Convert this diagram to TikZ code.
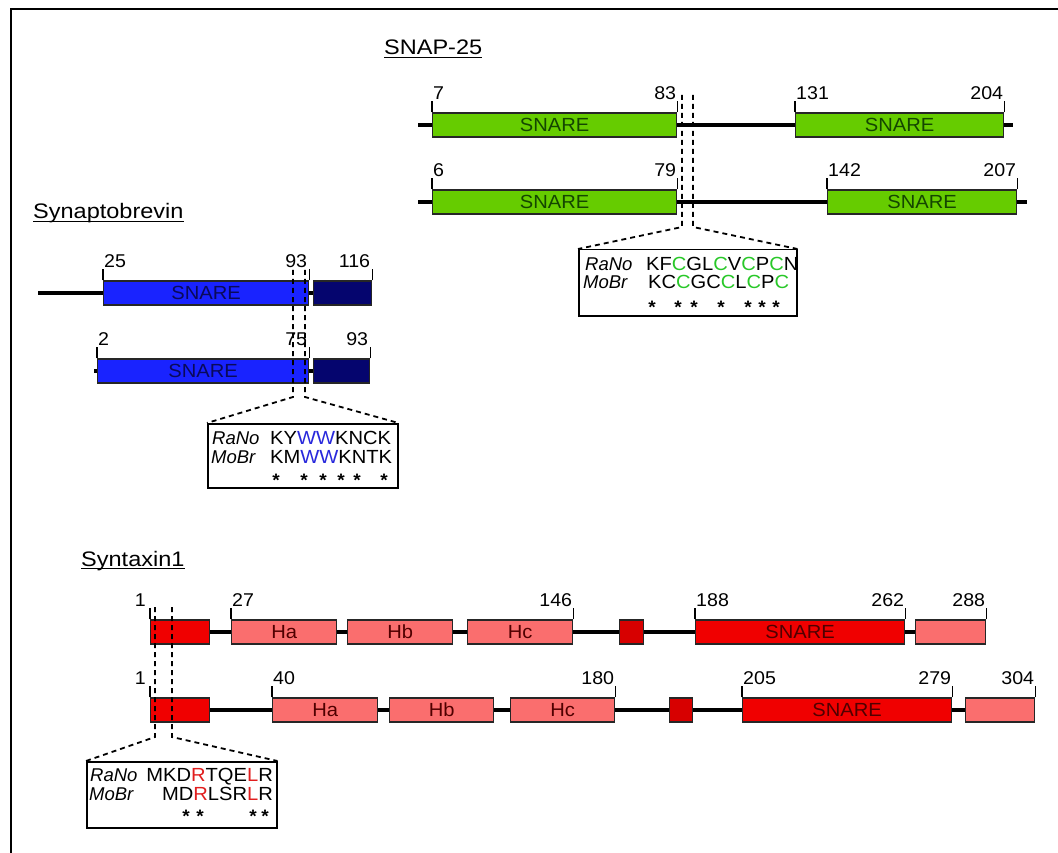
\documentclass[tikz,border=0pt]{standalone}
\usepackage{fontspec}
\setmainfont{Liberation Sans}[FakeStretch=1.06]
\newfontfamily\plainf{Liberation Sans}
\newfontfamily\titf{Liberation Sans}[FakeStretch=1.12]
\definecolor{snapg}{RGB}{102,204,0}
\definecolor{snapt}{RGB}{20,70,0}
\definecolor{sbblue}{RGB}{25,35,255}
\definecolor{sbtext}{RGB}{10,10,90}
\definecolor{sbnavy}{RGB}{5,5,110}
\definecolor{sxred}{RGB}{240,0,0}
\definecolor{sxdark}{RGB}{215,0,0}
\definecolor{sxpink}{RGB}{250,110,110}
\definecolor{sxtext}{RGB}{80,0,0}
\definecolor{lg}{RGB}{40,200,40}
\definecolor{lb}{RGB}{40,40,220}
\definecolor{lr}{RGB}{225,30,30}
\newcommand\cgr[1]{\textcolor{lg}{#1}}
\newcommand\cbl[1]{\textcolor{lb}{#1}}
\newcommand\crd[1]{\textcolor{lr}{#1}}
\newcommand\tkl[5]{%
  \draw[tk] (#1) -- ([yshift=11pt]#1);
  \node[num, anchor=#2] (#4) at ([xshift=#3, yshift=13pt]#1) {#5};}
\begin{document}
\begin{tikzpicture}[x=1pt,y=-1pt,
  bb/.style={line width=3.2pt},
  dom/.style={draw=black!85, line width=1.3pt, inner sep=0pt, minimum height=24pt, anchor=west,
     font=\fontsize{19}{19}\selectfont},
  gdom/.style={dom, fill=snapg, text=snapt},
  bdom/.style={dom, fill=sbblue, text=sbtext},
  ndom/.style={dom, fill=sbnavy},
  rdom/.style={dom, fill=sxred, text=sxtext},
  ddom/.style={dom, fill=sxdark},
  pdom/.style={dom, fill=sxpink, text=sxtext},
  tk/.style={line width=1.3pt},
  num/.style={inner sep=0pt, font=\fontsize{18.5}{19}\selectfont},
  vd/.style={line width=1.8pt, dash pattern=on 5pt off 4pt},
  sbox/.style={draw, line width=1.5pt, inner sep=0pt, anchor=north west},
  nm/.style={inner sep=0pt, anchor=base west, font=\plainf\itshape\fontsize{18.5}{19}\selectfont},
  sqt/.style={inner sep=0pt, font=\fontsize{19}{19}\selectfont},
  strx/.style={inner sep=0pt, anchor=base, font=\bfseries\fontsize{18}{18}\selectfont},
  ttl/.style={inner sep=0pt, anchor=base west, font=\titf\fontsize{21}{21}\selectfont},
  ul/.style={line width=1.3pt}
]
\useasboundingbox (0,0) rectangle (1058,853);
\fill[white] (0,0) rectangle (1058,853);
\coordinate (f1) at (10.5,853); \coordinate (f2) at (10.5,9.5); \coordinate (f3) at (1058,9.5);
\draw[line width=2pt] (f1) -- (f2) -- (f3);

% titles
\node[ttl] (t1) at (384,55) {SNAP-25};
\draw[ul] ([yshift=-2.5pt]t1.base west) -- ([yshift=-2.5pt]t1.base east);
\node[ttl] (t2) at (33,219) {Synaptobrevin};
\draw[ul] ([yshift=-2.5pt]t2.base west) -- ([yshift=-2.5pt]t2.base east);
\node[ttl] (t3) at (81,566) {Syntaxin1};
\draw[ul] ([yshift=-2.5pt]t3.base west) -- ([yshift=-2.5pt]t3.base east);

% ---------- SNAP-25 ----------
\node[gdom, minimum width=244pt] (sa1) at (432,125) {SNARE};
\node[gdom, minimum width=208pt] (sa2) at (795,125) {SNARE};
\node[gdom, minimum width=244pt] (sb1) at (432,202) {SNARE};
\node[gdom, minimum width=189pt] (sb2) at (827,202) {SNARE};
\coordinate (sa0) at (418,125); \coordinate (sae) at (1013,125);
\coordinate (sb0) at (418,202); \coordinate (sbe) at (1027,202);
\draw[bb] (sa0) -- (sa1.west) (sa1.east) -- (sa2.west) (sa2.east) -- (sae);
\draw[bb] (sb0) -- (sb1.west) (sb1.east) -- (sb2.west) (sb2.east) -- (sbe);
\tkl{sa1.north west}{base west}{1pt}{lsa1}{7}
\tkl{sa1.north east}{base east}{-1pt}{lsa2}{83}
\tkl{sa2.north west}{base west}{1pt}{lsa3}{131}
\tkl{sa2.north east}{base east}{-1pt}{lsa4}{204}
\tkl{sb1.north west}{base west}{1pt}{lsb1}{6}
\tkl{sb1.north east}{base east}{-1pt}{lsb2}{79}
\tkl{sb2.north west}{base west}{1pt}{lsb3}{142}
\tkl{sb2.north east}{base east}{-1pt}{lsb4}{207}

\node[sbox, minimum width=218pt, minimum height=66pt] (sq) at (578,249) {};
\coordinate (sd1t) at (682,95); \coordinate (sd1b) at (682,227);
\coordinate (sd2t) at (693,95); \coordinate (sd2b) at (693,227);
\draw[vd] (sd1t) -- (sd1b) -- (sq.north west);
\draw[vd] (sd2t) -- (sd2b) -- (sq.north east);
\node[nm] (srn) at (585,270) {RaNo};
\node[sqt, anchor=base west] (srs) at (646,270) {KF\cgr{C}GL\cgr{C}V\cgr{C}P\cgr{C}N};
\node[nm] (smn) at (583,289) {MoBr};
\node[sqt, anchor=base west] (sms) at (648,289) {KC\cgr{C}GC\cgr{C}L\cgr{C}P\cgr{C}};
\foreach \x [count=\i] in {652,678,694,721,748,762,776}
  \node[strx] (ss\i) at (\x,313) {*};

% ---------- Synaptobrevin ----------
\node[bdom, minimum width=205pt] (va1) at (103,293) {SNARE};
\node[ndom, minimum width=58pt] (va2) at (313,293) {};
\node[bdom, minimum width=211pt] (vb1) at (97,371) {SNARE};
\node[ndom, minimum width=56pt] (vb2) at (313,371) {};
\coordinate (va0) at (38,293); \coordinate (vb0) at (94,371);
\draw[bb] (va0) -- (va1.west) (va1.east) -- (va2.west);
\draw[bb] (vb0) -- (vb1.west) (vb1.east) -- (vb2.west);
\tkl{va1.north west}{base west}{1pt}{lva1}{25}
\tkl{va1.north east}{base east}{-2pt}{lva2}{93}
\tkl{va2.north east}{base east}{-2pt}{lva3}{116}
\tkl{vb1.north west}{base west}{1pt}{lvb1}{2}
\tkl{vb1.north east}{base east}{-2pt}{lvb2}{75}
\tkl{vb2.north east}{base east}{-2pt}{lvb3}{93}

\node[sbox, minimum width=190pt, minimum height=64pt] (vq) at (207,423) {};
\coordinate (vd1t) at (293,270); \coordinate (vd1b) at (293,397);
\coordinate (vd2t) at (305,270); \coordinate (vd2b) at (305,397);
\draw[vd] (vd1t) -- (vd1b) -- (vq.north west);
\draw[vd] (vd2t) -- (vd2b) -- (vq.north east);
\node[nm] (vrn) at (212,444) {RaNo};
\node[sqt, anchor=base west] (vrs) at (270,444) {KY\cbl{WW}KNCK};
\node[nm] (vmn) at (211,463) {MoBr};
\node[sqt, anchor=base west] (vms) at (270,463) {KM\cbl{WW}KNTK};
\foreach \x [count=\i] in {276,304,323,341,357,384}
  \node[strx] (vs\i) at (\x,486) {*};

% ---------- Syntaxin1 ----------
\node[rdom, minimum width=59pt] (xa1) at (150,632) {};
\node[pdom, minimum width=105pt] (xa2) at (231,632) {Ha};
\node[pdom, minimum width=105pt] (xa3) at (347,632) {Hb};
\node[pdom, minimum width=105pt] (xa4) at (467,632) {Hc};
\node[ddom, minimum width=24pt] (xa5) at (619,632) {};
\node[rdom, minimum width=209pt] (xa6) at (695,632) {SNARE};
\node[pdom, minimum width=70pt] (xa7) at (915,632) {};
\draw[bb] (xa1.east) -- (xa2.west) (xa2.east) -- (xa3.west) (xa3.east) -- (xa4.west)
  (xa4.east) -- (xa5.west) (xa5.east) -- (xa6.west) (xa6.east) -- (xa7.west);
\node[rdom, minimum width=59pt] (xb1) at (150,710) {};
\node[pdom, minimum width=105pt] (xb2) at (272,710) {Ha};
\node[pdom, minimum width=104pt] (xb3) at (389,710) {Hb};
\node[pdom, minimum width=104pt] (xb4) at (510,710) {Hc};
\node[ddom, minimum width=23pt] (xb5) at (669,710) {};
\node[rdom, minimum width=209pt] (xb6) at (742,710) {SNARE};
\node[pdom, minimum width=69pt] (xb7) at (965,710) {};
\draw[bb] (xb1.east) -- (xb2.west) (xb2.east) -- (xb3.west) (xb3.east) -- (xb4.west)
  (xb4.east) -- (xb5.west) (xb5.east) -- (xb6.west) (xb6.east) -- (xb7.west);
\tkl{xa1.north west}{base east}{-4pt}{lxa1}{1}
\tkl{xa2.north west}{base west}{1pt}{lxa2}{27}
\tkl{xa4.north east}{base east}{-1pt}{lxa3}{146}
\tkl{xa6.north west}{base west}{1pt}{lxa4}{188}
\tkl{xa6.north east}{base east}{-1pt}{lxa5}{262}
\tkl{xa7.north east}{base east}{-1pt}{lxa6}{288}
\tkl{xb1.north west}{base east}{-4pt}{lxb1}{1}
\tkl{xb2.north west}{base west}{1pt}{lxb2}{40}
\tkl{xb4.north east}{base east}{-1pt}{lxb3}{180}
\tkl{xb6.north west}{base west}{1pt}{lxb4}{205}
\tkl{xb6.north east}{base east}{-1pt}{lxb5}{279}
\tkl{xb7.north east}{base east}{-1pt}{lxb6}{304}

\node[sbox, minimum width=190pt, minimum height=66pt] (xq) at (86,761) {};
\coordinate (xd1t) at (155,607); \coordinate (xd1b) at (155,737);
\coordinate (xd2t) at (172,607); \coordinate (xd2b) at (172,737);
\draw[vd] (xd1t) -- (xd1b) -- (xq.north west);
\draw[vd] (xd2t) -- (xd2b) -- (xq.north east);
\node[nm] (xrn) at (90,781) {RaNo};
\node[sqt, anchor=base east] (xrs) at (273,781) {MKD\crd{R}TQE\crd{L}R};
\node[nm] (xmn) at (89,800) {MoBr};
\node[sqt, anchor=base east] (xms) at (273,800) {MD\crd{R}LSR\crd{L}R};
\foreach \x [count=\i] in {186,200,253,265}
  \node[strx] (xs\i) at (\x,822) {*};
\end{tikzpicture}
\end{document}
